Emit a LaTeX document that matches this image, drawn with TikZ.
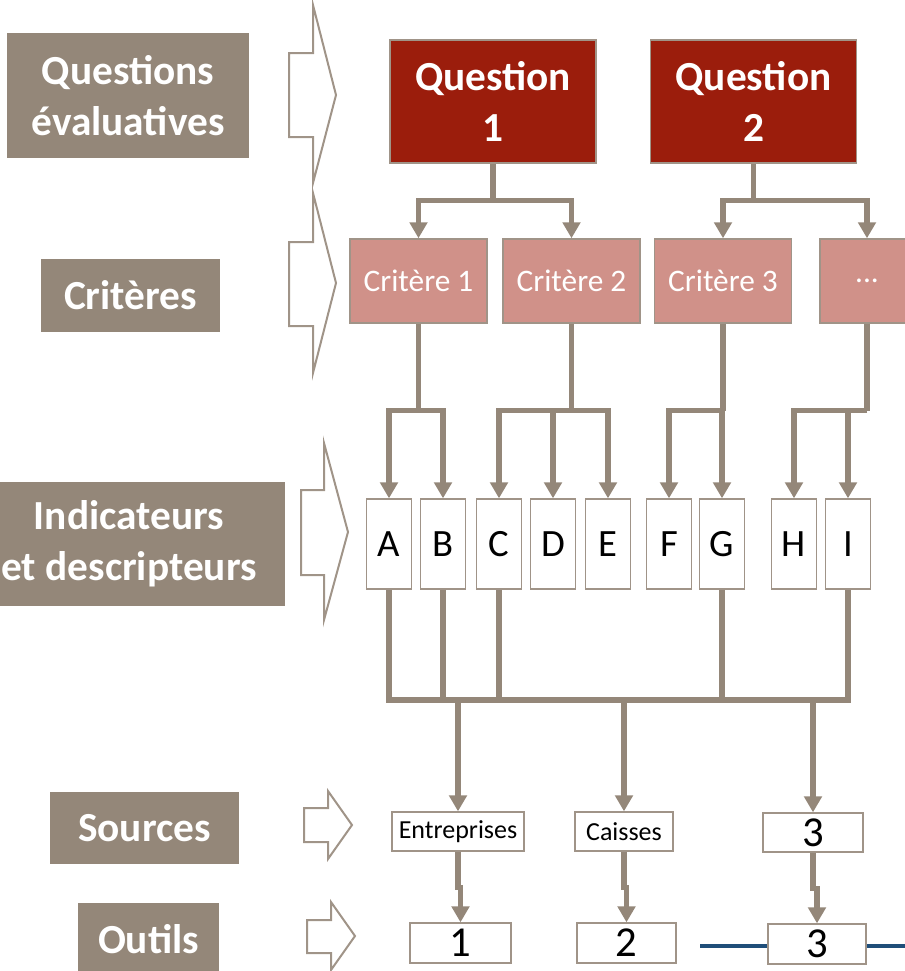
\documentclass[tikz,border=0pt]{standalone}
\usepackage{fontspec}
\setmainfont{Carlito}
\usetikzlibrary{arrows.meta,positioning,calc}

\definecolor{taupe}{RGB}{148,135,121}
\definecolor{edgegrey}{RGB}{160,148,136}
\definecolor{darkred}{RGB}{155,29,12}
\definecolor{rosy}{RGB}{208,145,137}
\definecolor{navy}{RGB}{31,78,121}

\tikzset{
  sz/.style 2 args={minimum width=#1*0.75pt, minimum height=#2*0.75pt},
  lbl/.style={fill=taupe, text=white, inner sep=0pt, align=center,
    font=\fontsize{31pt}{38pt}\selectfont\bfseries},
  quest/.style={fill=darkred, draw=edgegrey, line width=1.1pt, text=white,
    inner sep=0pt, align=center, font=\fontsize{31pt}{38pt}\selectfont\bfseries},
  crit/.style={fill=rosy, draw=edgegrey, line width=1.1pt, text=white,
    inner sep=0pt, font=\fontsize{23.5pt}{28pt}\selectfont},
  ind/.style={fill=white, draw=edgegrey, line width=1pt, inner sep=0pt,
    sz={45}{90}, font=\fontsize{29pt}{34pt}\selectfont},
  srcbox/.style={fill=white, draw=edgegrey, line width=1pt, inner sep=0pt,
    font=\fontsize{19.5pt}{24pt}\selectfont},
  digit/.style={font=\fontsize{32pt}{36pt}\selectfont},
  link/.style={draw=taupe, line width=4pt},
  arr/.style={link, -{Triangle[width=13pt,length=12pt]}},
  chev/.style={draw=edgegrey, line width=1.5pt, line join=miter},
  blueline/.style={draw=navy, line width=3pt}
}

\begin{document}
\begin{tikzpicture}[x=0.75pt, y=-0.75pt]
    \useasboundingbox (0,0) rectangle (905,971);

    % row labels
    \node[lbl, sz={242}{125}] (qlab) at (128,95.5) {Questions\\évaluatives};
    \node[lbl, sz={179}{73}] (clab) at (130.5,295.5) {Critères};
    \node[lbl, sz={312}{124}] (ilab) at (129,544) {Indicateurs\\et descripteurs};
    \node[lbl, sz={189}{72}] (slab) at (144.5,828) {Sources};
    \node[lbl, sz={141}{72}] (olab) at (148.5,939) {Outils};

    % chevrons
    \foreach \l/\n/\t/\ya/\yb/\yc/\yd/\ye in {289/313/336/5/53/95/137/183,
        289/313/336/193/242/283/326/373, 301/324/348/443/490/532/575/620,
        304/328/352/791/808/825/842/859, 307/331/355/902/920/936/953/970}
      \draw[chev] (\n,\ya) -- (\t,\yc) -- (\n,\ye) -- (\n,\yd) -- (\l,\yd)
        -- (\l,\yb) -- (\n,\yb) -- cycle;

    % questions and criteria
    \node[quest, sz={206}{123}] (q1) at (493,101.5) {Question\\1};
    \node[quest, sz={206}{123}] (q2) at (753.5,101.5) {Question\\2};
    \node[crit, sz={137}{84}] (c1) at (418.5,281) {Critère 1};
    \node[crit, sz={137}{84}] (c2) at (571.5,281) {Critère 2};
    \node[crit, sz={137}{84}] (c3) at (723,281) {Critère 3};
    \node[crit, sz={94}{84}] (c4) at (867,281) {{.}{.}{.}};

    % indicators
    \foreach \n/\x in {A/389,B/443,C/499,D/553,E/608,F/669,G/722,H/794,I/848}
      \node[ind] (\n) at (\x,544) {\n};

    % sources and tools
    \node[srcbox, sz={132}{39}] (s1) at (458,831.5) {Entreprises};
    \node[srcbox, sz={98}{39}] (s2) at (624,831.5) {Caisses};
    \node[srcbox, digit, sz={100}{39}] (s3) at (813,832.5) {3};
    \coordinate (bl) at (700,946);
    \coordinate (br) at (905,946);
    \draw[blueline] (bl) -- (br);
    \node[srcbox, digit, sz={101}{40}] (t1) at (460.5,943) {1};
    \node[srcbox, digit, sz={99}{40}] (t2) at (626.5,943) {2};
    \node[srcbox, digit, sz={98}{40}] (t3) at (817,944) {3};

    % questions -> criteria
    \draw[link] (q1.south) -- ++(0,37) coordinate (q1b);
    \draw[link] (q2.south) -- ++(0,37) coordinate (q2b);
    \draw[arr] (q1b) -| (c1.north);
    \draw[arr] (q1b) -| (c2.north);
    \draw[arr] (q2b) -| (c3.north);
    \draw[arr] (q2b) -| (c4.north);

    % criteria -> indicators
    \foreach \c in {c1,c2,c3,c4}
      \draw[link] (\c.south) -- ++(0,87) coordinate (\c b);
    \foreach \c/\n in {c1/A,c1/B,c2/C,c2/D,c2/E,c3/F,c3/G,c4/H,c4/I}
      \draw[arr] (\c b) -| (\n.north);

    % indicators -> sources
    \coordinate (bar) at (0,700);
    \draw[link] (A.south) -- (A.south |- bar) -- (I.south |- bar) -- (I.south);
    \foreach \n in {B,C,G}
      \draw[link] (\n.south) -- (\n.south |- bar);
    \foreach \s in {s1,s2,s3}
      \draw[arr] (\s.north |- bar) -- (\s.north);

    % sources -> tools
    \draw[arr] (s1.south) -- ++(0,36) -| (t1.north);
    \draw[arr] (s2.south) -- ++(0,36) -| (t2.north);
    \draw[arr] (s3.south) -- ++(0,36) -| (t3.north);
\end{tikzpicture}
\end{document}
